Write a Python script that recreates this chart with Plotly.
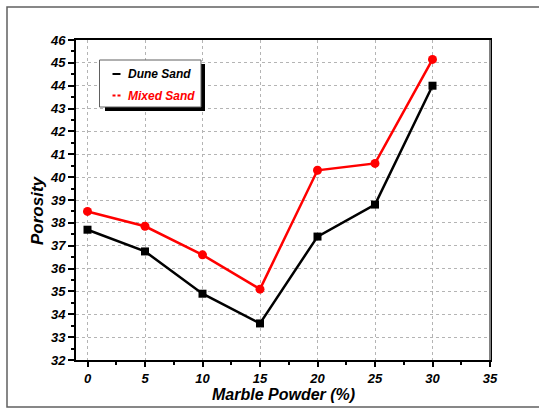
import plotly.graph_objects as go

# ---- data ----
marble_powder = [0, 5, 10, 15, 20, 25, 30]
dune_sand = [37.7, 36.75, 34.9, 33.6, 37.4, 38.8, 44.0]
mixed_sand = [38.5, 37.85, 36.6, 35.1, 40.3, 40.6, 45.15]
series_names = ["Dune Sand", "Mixed Sand"]
x_title = "Marble Powder (%)"
y_title = "Porosity"

W, H = 539, 409
L, R, T, B = 76, 49, 40, 49
PW, PH = W - L - R, H - T - B


def px(x):
    return (x - L) / PW


def py(y):
    return (H - B - y) / PH


FONT = "Liberation Sans, Arial, sans-serif"

fig = go.Figure()
fig.add_trace(go.Scatter(
    x=marble_powder, y=dune_sand, name=series_names[0], mode="lines+markers",
    line=dict(color="black", width=2.5),
    marker=dict(symbol="square", size=8, color="black"),
))
fig.add_trace(go.Scatter(
    x=marble_powder, y=mixed_sand, name=series_names[1], mode="lines+markers",
    line=dict(color="#ff0000", width=2.5),
    marker=dict(symbol="circle", size=9, color="#ff0000"),
))

tickfont = dict(family=FONT, size=13, color="black", weight="bold", style="italic")

fig.update_xaxes(
    range=[-1, 35], tick0=0, dtick=5, ticks="outside", ticklen=5, tickwidth=1.5,
    tickcolor="black", showline=True, linecolor="black", linewidth=2, mirror=True,
    showgrid=True, gridcolor="#b4b4b4", griddash="dot", gridwidth=1,
    zeroline=False, tickfont=tickfont,
    minor=dict(dtick=2.5, tick0=0, ticks="outside", ticklen=3, tickcolor="black", showgrid=False),
)
fig.update_yaxes(
    range=[32, 46], tick0=32, dtick=1, ticks="outside", ticklen=6, tickwidth=1.5,
    tickcolor="black", showline=True, linecolor="black", linewidth=2, mirror=True,
    showgrid=True, gridcolor="#b4b4b4", griddash="dot", gridwidth=1,
    zeroline=False, tickfont=tickfont,
    minor=dict(dtick=0.5, tick0=32, ticks="outside", ticklen=3, tickcolor="black", showgrid=False),
)

shapes = [
    # outer frame
    dict(type="rect", xref="paper", yref="paper", x0=px(7), x1=px(560), y0=py(407), y1=py(7),
         line=dict(color="#606060", width=1.5), layer="below"),
    # right border gray
    dict(type="line", xref="paper", yref="paper", x0=1, x1=1, y0=0, y1=1,
         line=dict(color="#808080", width=2)),
    # legend shadow
    dict(type="rect", xref="paper", yref="paper", x0=px(105), x1=px(205), y0=py(111), y1=py(64),
         fillcolor="black", line=dict(width=0)),
    # legend box
    dict(type="rect", xref="paper", yref="paper", x0=px(99.5), x1=px(201), y0=py(107), y1=py(60),
         fillcolor="white", line=dict(color="#606060", width=1)),
    # legend symbols
    dict(type="line", xref="paper", yref="paper", x0=px(112.5), x1=px(120.5), y0=py(74), y1=py(74),
         line=dict(color="black", width=2)),
    dict(type="line", xref="paper", yref="paper", x0=px(112.5), x1=px(120.5), y0=py(95.5), y1=py(95.5),
         line=dict(color="#ff0000", width=2, dash="3px,2px")),
]

legfont = dict(family=FONT, size=12, weight="bold", style="italic")
annotations = [
    dict(text=series_names[0], xref="paper", yref="paper", x=px(125.5), y=py(74), xanchor="left",
         yanchor="middle", showarrow=False, font=dict(**legfont, color="black")),
    dict(text=series_names[1], xref="paper", yref="paper", x=px(125.5), y=py(95.5), xanchor="left",
         yanchor="middle", showarrow=False, font=dict(**legfont, color="#ff0000")),
    dict(text=x_title, xref="paper", yref="paper", x=px(283), y=py(394), xanchor="center",
         yanchor="middle", showarrow=False,
         font=dict(family=FONT, size=16, weight="bold", style="italic", color="black")),
    dict(text=y_title, xref="paper", yref="paper", x=px(37), y=py(210), xanchor="center",
         yanchor="middle", showarrow=False, textangle=-90,
         font=dict(family=FONT, size=17, weight="bold", style="italic", color="black")),
]

fig.update_layout(
    width=W, height=H, margin=dict(l=L, r=R, t=T, b=B),
    paper_bgcolor="white", plot_bgcolor="white", showlegend=False,
    shapes=shapes, annotations=annotations,
)

fig.write_html("out.html")
